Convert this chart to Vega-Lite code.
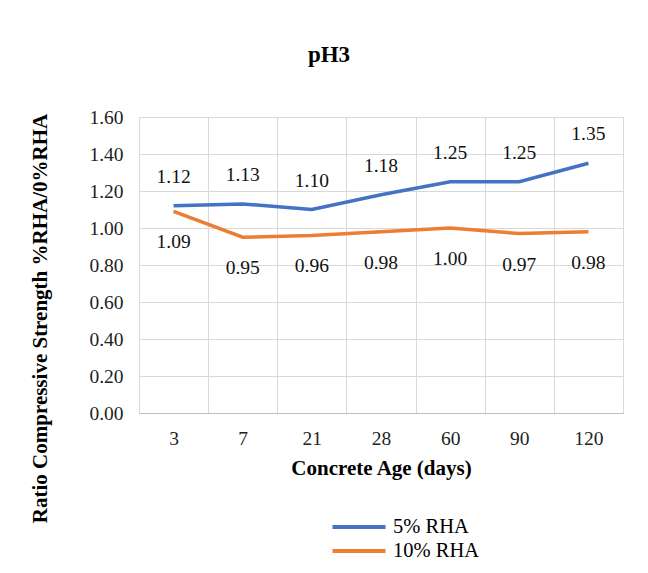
{
  "$schema": "https://vega.github.io/schema/vega-lite/v6.json",
  "width": 484,
  "height": 296,
  "autosize": {"type": "none"},
  "padding": {"left": 139, "top": 117, "right": 25, "bottom": 160},
  "background": "white",
  "title": {
    "text": "pH3",
    "font": "'Liberation Serif', 'Times New Roman', serif",
    "fontSize": 23,
    "fontWeight": "bold",
    "color": "#000000",
    "anchor": "middle",
    "dx": -52,
    "baseline": "alphabetic",
    "offset": 22
  },
  "data": {
    "values": [
      {"age": "3", "series": "5% RHA", "ratio": 1.12},
      {"age": "7", "series": "5% RHA", "ratio": 1.13},
      {"age": "21", "series": "5% RHA", "ratio": 1.10},
      {"age": "28", "series": "5% RHA", "ratio": 1.18},
      {"age": "60", "series": "5% RHA", "ratio": 1.25},
      {"age": "90", "series": "5% RHA", "ratio": 1.25},
      {"age": "120", "series": "5% RHA", "ratio": 1.35},
      {"age": "3", "series": "10% RHA", "ratio": 1.09},
      {"age": "7", "series": "10% RHA", "ratio": 0.95},
      {"age": "21", "series": "10% RHA", "ratio": 0.96},
      {"age": "28", "series": "10% RHA", "ratio": 0.98},
      {"age": "60", "series": "10% RHA", "ratio": 1.00},
      {"age": "90", "series": "10% RHA", "ratio": 0.97},
      {"age": "120", "series": "10% RHA", "ratio": 0.98}
    ]
  },
  "encoding": {
    "x": {
      "field": "age",
      "type": "nominal",
      "sort": ["3", "7", "21", "28", "60", "90", "120"],
      "scale": {"type": "band", "paddingInner": 0, "paddingOuter": 0},
      "axis": {
        "title": "Concrete Age (days)",
        "labelAngle": 0,
        "tickBand": "extent",
        "grid": true,
        "gridColor": "#d9d9d9",
        "ticks": false,
        "domain": true,
        "domainColor": "#bfbfbf",
        "labelFont": "'Liberation Serif', 'Times New Roman', serif",
        "labelFontSize": 19.5,
        "labelColor": "#222222",
        "labelPadding": 16,
        "titleFont": "'Liberation Serif', 'Times New Roman', serif",
        "titleFontSize": 21,
        "titleFontWeight": "bold",
        "titleColor": "#000000",
        "titlePadding": 10
      }
    },
    "y": {
      "field": "ratio",
      "type": "quantitative",
      "scale": {"domain": [0, 1.6], "nice": false},
      "axis": {
        "title": "Ratio Compressive Strength %RHA/0%RHA",
        "values": [0, 0.2, 0.4, 0.6, 0.8, 1.0, 1.2, 1.4, 1.6],
        "format": ".2f",
        "grid": true,
        "gridColor": "#d9d9d9",
        "ticks": false,
        "domain": false,
        "labelFont": "'Liberation Serif', 'Times New Roman', serif",
        "labelFontSize": 19.5,
        "labelColor": "#222222",
        "labelPadding": 16,
        "titleFont": "'Liberation Serif', 'Times New Roman', serif",
        "titleFontSize": 21,
        "titleFontWeight": "bold",
        "titleColor": "#000000",
        "titleX": -99,
        "titleY": 201,
        "titleAngle": 270,
        "titleAlign": "center",
        "titleBaseline": "middle"
      }
    }
  },
  "layer": [
    {
      "mark": {"type": "line", "strokeWidth": 3.5},
      "encoding": {
        "color": {
          "field": "series",
          "type": "nominal",
          "scale": {"domain": ["5% RHA", "10% RHA"], "range": ["#4472C4", "#ED7D31"]},
          "legend": {
            "title": null,
            "orient": "none",
            "legendX": 207,
            "legendY": 397,
            "direction": "vertical",
            "symbolType": "M-2.5,0L2.5,0",
            "symbolSize": 449,
            "symbolStrokeWidth": 4,
            "labelOffset": 21,
            "rowPadding": 0,
            "padding": 0,
            "labelFont": "'Liberation Serif', 'Times New Roman', serif",
            "labelFontSize": 20.5,
            "labelColor": "#000000"
          }
        }
      }
    },
    {
      "transform": [{"filter": "datum.series === '5% RHA'"}],
      "mark": {"type": "text", "dy": -29, "baseline": "middle", "font": "'Liberation Serif', 'Times New Roman', serif", "fontSize": 19.5, "color": "#111111"},
      "encoding": {"text": {"field": "ratio", "type": "quantitative", "format": ".2f"}}
    },
    {
      "transform": [{"filter": "datum.series === '10% RHA'"}],
      "mark": {"type": "text", "dy": 31, "baseline": "middle", "font": "'Liberation Serif', 'Times New Roman', serif", "fontSize": 19.5, "color": "#111111"},
      "encoding": {"text": {"field": "ratio", "type": "quantitative", "format": ".2f"}}
    }
  ],
  "config": {
    "view": {"stroke": "#d9d9d9"}
  }
}
